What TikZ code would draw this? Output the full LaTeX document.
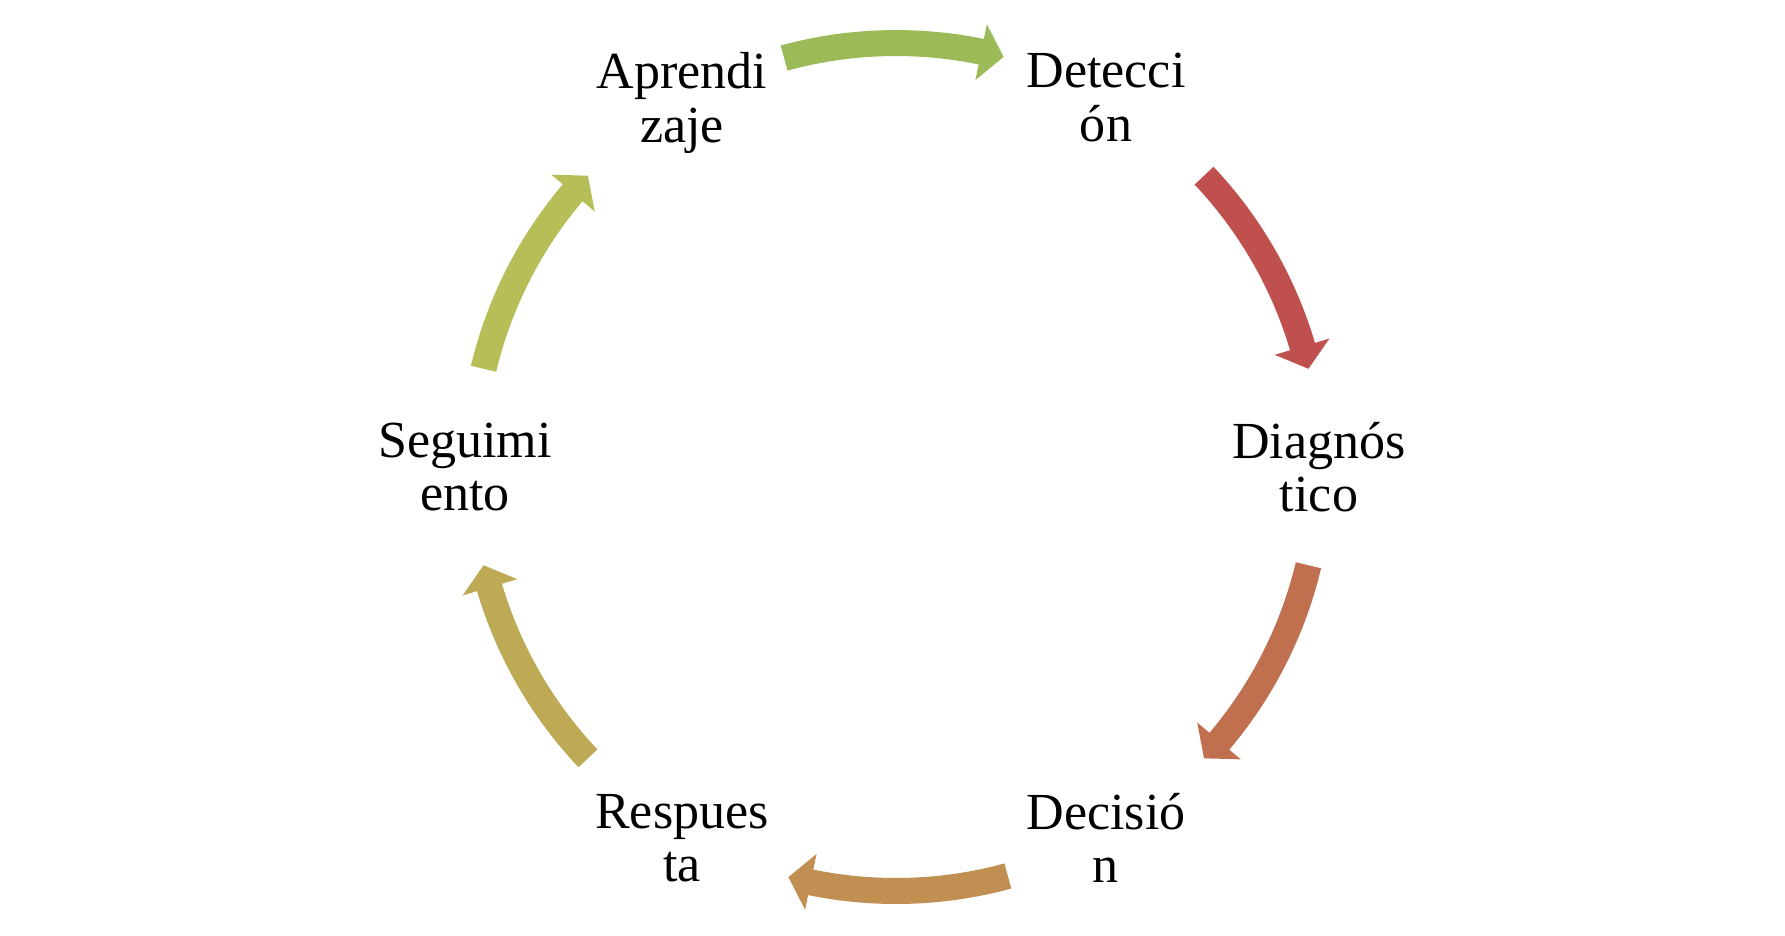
\documentclass[tikz,border=0pt]{standalone}
\usepackage{fontspec}
\setmainfont{Liberation Serif}
\usetikzlibrary{calc}
\definecolor{arrowA}{HTML}{C0504D}
\definecolor{arrowB}{HTML}{C0704F}
\definecolor{arrowC}{HTML}{C08F51}
\definecolor{arrowD}{HTML}{BEA954}
\definecolor{arrowE}{HTML}{B6BE58}
\definecolor{arrowF}{HTML}{9BBB59}
\tikzset{
    stage/.style={align=center, inner sep=0pt, font=\fontsize{14.8}{15.2}\selectfont}
}
% #1 colour, #2 angle of the middle of the arrow (it runs clockwise)
\newcommand{\cyclearrow}[2]{
    \fill[#1] ({#2+15}:437) arc[start angle={#2+15}, end angle={#2-11.9}, radius=437]
        -- ({#2-11.9}:452) -- ({#2-15}:424) -- ({#2-11.9}:395) -- ({#2-11.9}:411)
        arc[start angle={#2-11.9}, end angle={#2+15}, radius=411] -- cycle;
}

\begin{document}
\begin{tikzpicture}[x=0.01cm, y=0.01cm]
        \useasboundingbox (-896, -468) rectangle (889, 467);
        \node[stage] (apr) at (-214, 364) {Aprendi\\zaje};
        \node[stage] (det) at (210, 369.5) {Detecci\\ón};
        \node[stage] (diag) at (423, 0) {Diagnós\\tico};
        \node[stage] (dec) at (210, -371) {Decisió\\n};
        \node[stage] (resp) at (-214, -371) {Respues\\ta};
        \node[stage] (seg) at (-431, 0) {Seguimi\\ento};
        \cyclearrow{arrowF}{90.3}
        \cyclearrow{arrowA}{28.4}
        \cyclearrow{arrowB}{-28.4}
        \cyclearrow{arrowC}{-89.7}
        \cyclearrow{arrowD}{208.4}
        \cyclearrow{arrowE}{151.6}
    \end{tikzpicture}
\end{document}
